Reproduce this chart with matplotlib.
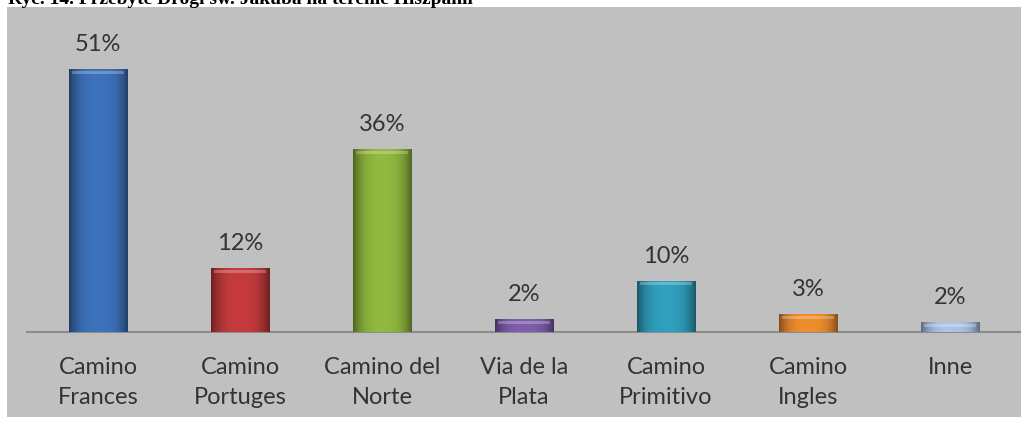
import numpy as np
import matplotlib.pyplot as plt
from matplotlib.patches import Rectangle

# data
categories = ['Camino\nFrances', 'Camino\nPortuges', 'Camino del\nNorte', 'Via de la\nPlata',
              'Camino\nPrimitivo', 'Camino\nIngles', 'Inne']
values = [51.2, 12.4, 35.6, 2.5, 10.0, 3.5, 1.9]
value_labels = ['51%', '12%', '36%', '2%', '10%', '3%', '2%']
colors = ['#3B6FB6', '#C0393B', '#8DB33E', '#7B5BA8', '#2E9BB8', '#E8892E', '#A8BEE2']

title = 'Ryc. 14. Przebyte Drogi św. Jakuba na terenie Hiszpanii'

W, H = 1021, 421
fig = plt.figure(figsize=(W / 100, H / 100), dpi=100)
fig.patch.set_facecolor('white')

# gray panel behind the chart
fig.patches.append(Rectangle((7 / W, 4 / H), 1 - 7 / W, (H - 11) / H,
                             transform=fig.transFigure, facecolor='#C0C0C0',
                             edgecolor='none', zorder=-10))

# title is cut at the top of the picture, only its lower part shows
fig.text(8 / W, 1 - 4 / H, title, fontsize=14, fontweight='bold',
         family='Liberation Serif', va='baseline', ha='left')

ax = fig.add_axes([27 / W, (H - 332) / H, (W - 27) / W, 302 / H])
ax.set_facecolor('none')
x = np.arange(len(categories))
bars = ax.bar(x, values, width=0.41, color=colors, edgecolor='none', zorder=2)

# soft shading on each bar: darker at the sides, lighter in the middle
grad = np.linspace(-1, 1, 64)
shade = 1 - 0.45 * np.abs(grad) ** 3
for b, c in zip(bars, colors):
    rgb = np.array(plt.matplotlib.colors.to_rgb(c))
    img = np.clip(rgb[None, None, :] * shade[None, :, None] * 1.03, 0, 1)
    x0 = b.get_x()
    im = ax.imshow(img, extent=(x0, x0 + b.get_width(), 0, b.get_height()),
                   aspect='auto', zorder=3, interpolation='bilinear')
    im.set_clip_path(b)
    # light bevel along the top
    ax.add_patch(Rectangle((x0 + b.get_width() * 0.06, b.get_height() - 0.9),
                           b.get_width() * 0.88, 0.6, facecolor='white',
                           alpha=0.25, edgecolor='none', zorder=4))

for b, lab in zip(bars, value_labels):
    ax.annotate(lab, (b.get_x() + b.get_width() / 2, b.get_height()),
                xytext=(0, 10), textcoords='offset points', ha='center',
                va='bottom', fontsize=17, family='Lato', color='#333333')

ax.set_xlim(-0.5, len(categories) - 0.5)
ax.set_ylim(0, 302 / 5.13)
ax.set_xticks(x)
ax.set_xticklabels(categories, fontsize=17, family='Lato', color='#333333',
                   linespacing=1.55)
ax.tick_params(axis='x', length=0, pad=18)
ax.set_yticks([])
for s in ['top', 'right', 'left']:
    ax.spines[s].set_visible(False)
ax.spines['bottom'].set_color('#8C8C8C')
ax.spines['bottom'].set_linewidth(1.5)

fig.savefig('out.png', dpi=100)
